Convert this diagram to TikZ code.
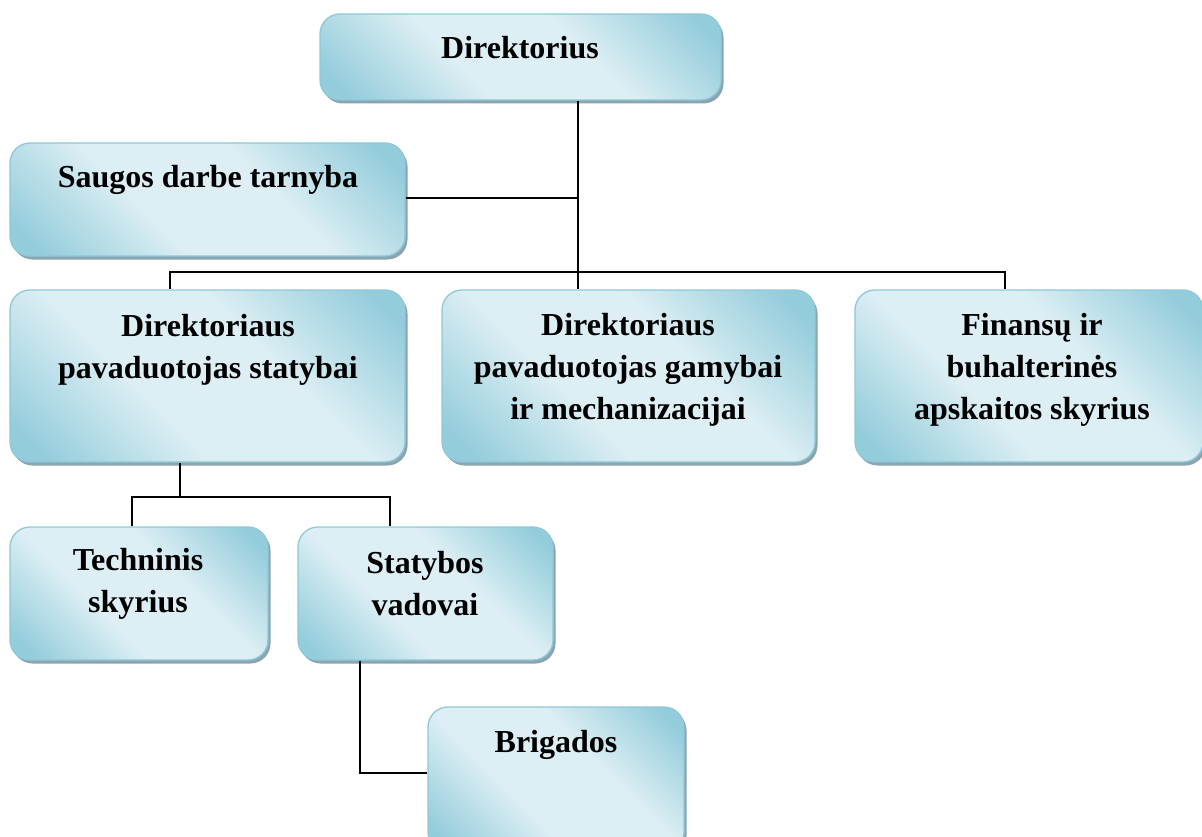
\documentclass[tikz,border=0pt]{standalone}
\usepackage{fontspec}
\setmainfont{Liberation Serif}
\usetikzlibrary{shadows}
\definecolor{boxdark}{HTML}{93CCDB}
\definecolor{boxlight}{HTML}{DDEFF4}
\definecolor{boxedge}{HTML}{8FC8D8}
\definecolor{boxshadow}{HTML}{8AA5B0}
\pgfdeclareverticalshading{orgshade}{100bp}{color(0bp)=(boxdark); color(19bp)=(boxdark); color(40bp)=(boxlight); color(60bp)=(boxlight); color(81bp)=(boxdark); color(100bp)=(boxdark)}
\tikzset{
  orgbox/.style={draw=boxedge, line width=1.3pt, rounded corners=20pt,
    shading=orgshade, shading angle=-45,
    drop shadow={shadow xshift=2.5pt, shadow yshift=-3.5pt, fill=boxshadow, opacity=1},
    inner sep=0pt},
  lbl/.style={font=\fontsize{32}{42}\selectfont\bfseries, align=center, inner sep=0pt, text=black},
  conn/.style={draw=black, line width=1.8pt}
}
\begin{document}
\begin{tikzpicture}[x=1pt,y=-1pt]
\path[use as bounding box, clip] (0,0) rectangle (1202,837);
\fill[white] (0,0) rectangle (1202,837);
% boxes
\node[orgbox, minimum width=401pt, minimum height=86pt] (dir) at (520.5,57) {};
\node[orgbox, minimum width=395pt, minimum height=113pt] (sau) at (207.5,199.5) {};
\node[orgbox, minimum width=395pt, minimum height=172pt] (dps) at (207.5,376) {};
\node[orgbox, minimum width=373pt, minimum height=172pt] (dpg) at (628.5,376) {};
\node[orgbox, minimum width=348pt, minimum height=172pt] (fin) at (1029,376) {};
\node[orgbox, minimum width=258pt, minimum height=133pt] (tech) at (139,593.5) {};
\node[orgbox, minimum width=255pt, minimum height=133pt] (stat) at (425.5,593.5) {};
\node[orgbox, minimum width=256pt, minimum height=145pt] (brig) at (556,779.5) {};
% texts
\node[lbl] (tdir) at (520,48) {Direktorius};
\node[lbl] (tsau) at (208,180) {Saugos darbe tarnyba};
\node[lbl] (tdps) at (208,350) {Direktoriaus\\pavaduotojas statybai};
\node[lbl] (tdpg) at (628,370) {Direktoriaus\\pavaduotojas gamybai\\ir mechanizacijai};
\node[lbl] (tfin) at (1032,370) {Finansų ir\\buhalterinės\\apskaitos skyrius};
\node[lbl] (ttech) at (138,584) {Techninis\\skyrius};
\node[lbl] (tstat) at (425,584) {Statybos\\vadovai};
\node[lbl] (tbrig) at (556,745) {Brigados};
% junction coordinates
\coordinate (trunk) at (578,198);
\coordinate (subtrunk) at (180,497);
\coordinate (stdrop) at (360,773);
% connectors
\draw[conn] (dir.south -| trunk) -- (dpg.north -| trunk);
\draw[conn] (sau.east |- trunk) -- (trunk);
\draw[conn] (dps.north -| 170,0) -- (170,272) -- (1005,272) -- (fin.north -| 1005,0);
\draw[conn] (dps.south -| subtrunk) -- (subtrunk);
\draw[conn] (tech.north -| 132,0) -- (132,497) -- (390,497) -- (stat.north -| 390,0);
\draw[conn] (stat.south -| stdrop) -- (stdrop) -- (brig.west |- stdrop);
\end{tikzpicture}
\end{document}
